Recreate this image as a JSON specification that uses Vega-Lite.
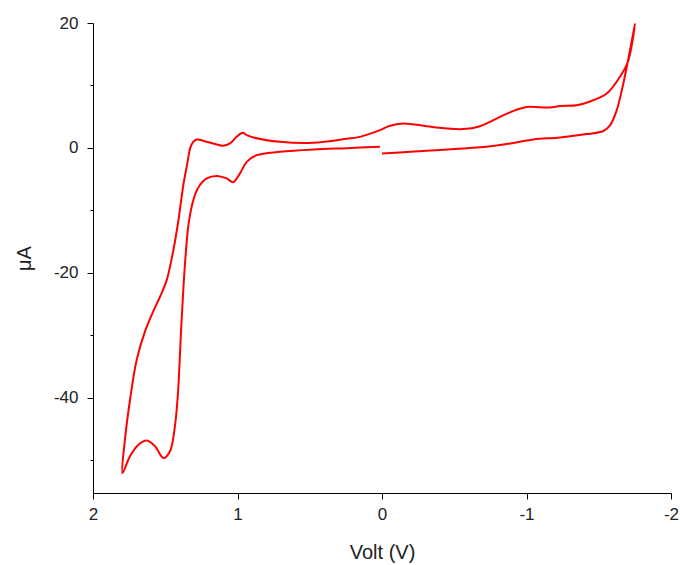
{
  "$schema": "https://vega.github.io/schema/vega-lite/v6.json",
  "autosize": "none",
  "width": 578,
  "height": 470,
  "padding": {"left": 93, "top": 23, "right": 9, "bottom": 72},
  "background": "white",
  "config": {"view": {"stroke": null}},
  "data": {"values": [
    {"i": 1, "v": 0.0, "a": -0.9},
    {"i": 2, "v": -0.15, "a": -0.7},
    {"i": 3, "v": -0.31, "a": -0.48},
    {"i": 4, "v": -0.5, "a": -0.2},
    {"i": 5, "v": -0.655, "a": 0.06},
    {"i": 6, "v": -0.78, "a": 0.35},
    {"i": 7, "v": -0.886, "a": 0.7},
    {"i": 8, "v": -1.047, "a": 1.34},
    {"i": 9, "v": -1.232, "a": 1.66},
    {"i": 10, "v": -1.417, "a": 2.2},
    {"i": 11, "v": -1.532, "a": 2.7},
    {"i": 12, "v": -1.578, "a": 3.6},
    {"i": 13, "v": -1.624, "a": 6.0},
    {"i": 14, "v": -1.67, "a": 10.3},
    {"i": 15, "v": -1.716, "a": 15.6},
    {"i": 16, "v": -1.751, "a": 19.9},
    {"i": 17, "v": -1.705, "a": 14.0},
    {"i": 18, "v": -1.647, "a": 11.4},
    {"i": 19, "v": -1.555, "a": 8.7},
    {"i": 20, "v": -1.462, "a": 7.63},
    {"i": 21, "v": -1.347, "a": 6.83},
    {"i": 22, "v": -1.232, "a": 6.72},
    {"i": 23, "v": -1.163, "a": 6.46},
    {"i": 24, "v": -1.0, "a": 6.56},
    {"i": 25, "v": -0.92, "a": 6.0},
    {"i": 26, "v": -0.839, "a": 5.2},
    {"i": 27, "v": -0.678, "a": 3.47},
    {"i": 28, "v": -0.562, "a": 3.0},
    {"i": 29, "v": -0.43, "a": 3.15},
    {"i": 30, "v": -0.309, "a": 3.47},
    {"i": 31, "v": -0.147, "a": 3.9},
    {"i": 32, "v": -0.05, "a": 3.5},
    {"i": 33, "v": 0.014, "a": 2.83},
    {"i": 34, "v": 0.152, "a": 1.76},
    {"i": 35, "v": 0.244, "a": 1.44},
    {"i": 36, "v": 0.475, "a": 0.8},
    {"i": 37, "v": 0.706, "a": 0.96},
    {"i": 38, "v": 0.89, "a": 1.66},
    {"i": 39, "v": 0.936, "a": 2.03},
    {"i": 40, "v": 0.964, "a": 2.4},
    {"i": 41, "v": 1.006, "a": 1.76},
    {"i": 42, "v": 1.052, "a": 0.7},
    {"i": 43, "v": 1.098, "a": 0.32},
    {"i": 44, "v": 1.144, "a": 0.54},
    {"i": 45, "v": 1.213, "a": 0.96},
    {"i": 46, "v": 1.282, "a": 1.34},
    {"i": 47, "v": 1.306, "a": 0.96},
    {"i": 48, "v": 1.327, "a": 0.0},
    {"i": 49, "v": 1.345, "a": -2.2},
    {"i": 50, "v": 1.375, "a": -6.0},
    {"i": 51, "v": 1.41, "a": -11.8},
    {"i": 52, "v": 1.444, "a": -16.4},
    {"i": 53, "v": 1.49, "a": -21.2},
    {"i": 54, "v": 1.535, "a": -23.8},
    {"i": 55, "v": 1.583, "a": -26.2},
    {"i": 56, "v": 1.64, "a": -29.4},
    {"i": 57, "v": 1.698, "a": -34.0},
    {"i": 58, "v": 1.744, "a": -40.4},
    {"i": 59, "v": 1.779, "a": -46.8},
    {"i": 60, "v": 1.796, "a": -52.1},
    {"i": 61, "v": 1.744, "a": -49.4},
    {"i": 62, "v": 1.687, "a": -47.6},
    {"i": 63, "v": 1.628, "a": -46.9},
    {"i": 64, "v": 1.571, "a": -47.8},
    {"i": 65, "v": 1.513, "a": -49.7},
    {"i": 66, "v": 1.467, "a": -48.6},
    {"i": 67, "v": 1.433, "a": -44.6},
    {"i": 68, "v": 1.412, "a": -39.3},
    {"i": 69, "v": 1.4, "a": -34.0},
    {"i": 70, "v": 1.391, "a": -29.5},
    {"i": 71, "v": 1.381, "a": -25.2},
    {"i": 72, "v": 1.369, "a": -20.5},
    {"i": 73, "v": 1.355, "a": -16.0},
    {"i": 74, "v": 1.338, "a": -12.1},
    {"i": 75, "v": 1.306, "a": -8.4},
    {"i": 76, "v": 1.275, "a": -6.5},
    {"i": 77, "v": 1.213, "a": -4.9},
    {"i": 78, "v": 1.144, "a": -4.5},
    {"i": 79, "v": 1.075, "a": -4.9},
    {"i": 80, "v": 1.029, "a": -5.5},
    {"i": 81, "v": 0.983, "a": -4.1},
    {"i": 82, "v": 0.936, "a": -2.24},
    {"i": 83, "v": 0.867, "a": -1.17},
    {"i": 84, "v": 0.706, "a": -0.64},
    {"i": 85, "v": 0.475, "a": -0.26},
    {"i": 86, "v": 0.244, "a": -0.05},
    {"i": 87, "v": 0.014, "a": 0.16}
  ]},
  "mark": {"type": "line", "color": "#ff0000", "strokeWidth": 2, "interpolate": "catmull-rom"},
  "encoding": {
    "order": {"field": "i", "type": "quantitative"},
    "x": {
      "field": "v", "type": "quantitative",
      "scale": {"domain": [-2, 2], "reverse": true, "nice": false, "zero": false},
      "axis": {
        "title": "Volt (V)",
        "values": [2, 1.5, 1, 0.5, 0, -0.5, -1, -1.5, -2],
        "labelExpr": "datum.value % 1 === 0 ? replace(datum.label, '\u2212', '-') : ''",
        "format": "d",
        "grid": false,
        "domainColor": "#000",
        "domainWidth": 1,
        "tickColor": "#000",
        "tickSize": {"condition": {"test": "datum.value % 1 !== 0", "value": 3}, "value": 6},
        "labelFont": "Liberation Sans",
        "labelFontSize": 17,
        "labelColor": "#222",
        "labelPadding": 7,
        "labelFlush": false,
        "titleFont": "Liberation Sans",
        "titleFontSize": 20,
        "titleFontWeight": "normal",
        "titleColor": "#222",
        "titleY": 59,
        "titleBaseline": "middle"
      }
    },
    "y": {
      "field": "a", "type": "quantitative",
      "scale": {"domain": [-55.3, 20], "nice": false, "zero": false},
      "axis": {
        "title": "μA",
        "values": [20, 10, 0, -10, -20, -30, -40, -50],
        "labelExpr": "datum.value % 20 === 0 ? replace(datum.label, '\u2212', '-') : ''",
        "grid": false,
        "domainColor": "#000",
        "domainWidth": 1,
        "tickColor": "#000",
        "tickSize": {"condition": {"test": "datum.value % 20 !== 0", "value": 3}, "value": 6},
        "labelFont": "Liberation Sans",
        "labelFontSize": 17,
        "labelColor": "#222",
        "labelPadding": 9,
        "labelFlush": false,
        "titleFont": "Liberation Sans",
        "titleFontSize": 20,
        "titleFontWeight": "normal",
        "titleColor": "#222",
        "titleX": -69,
        "titleY": 235,
        "titleAngle": -90,
        "titleBaseline": "middle",
        "titleAlign": "center"
      }
    }
  }
}
